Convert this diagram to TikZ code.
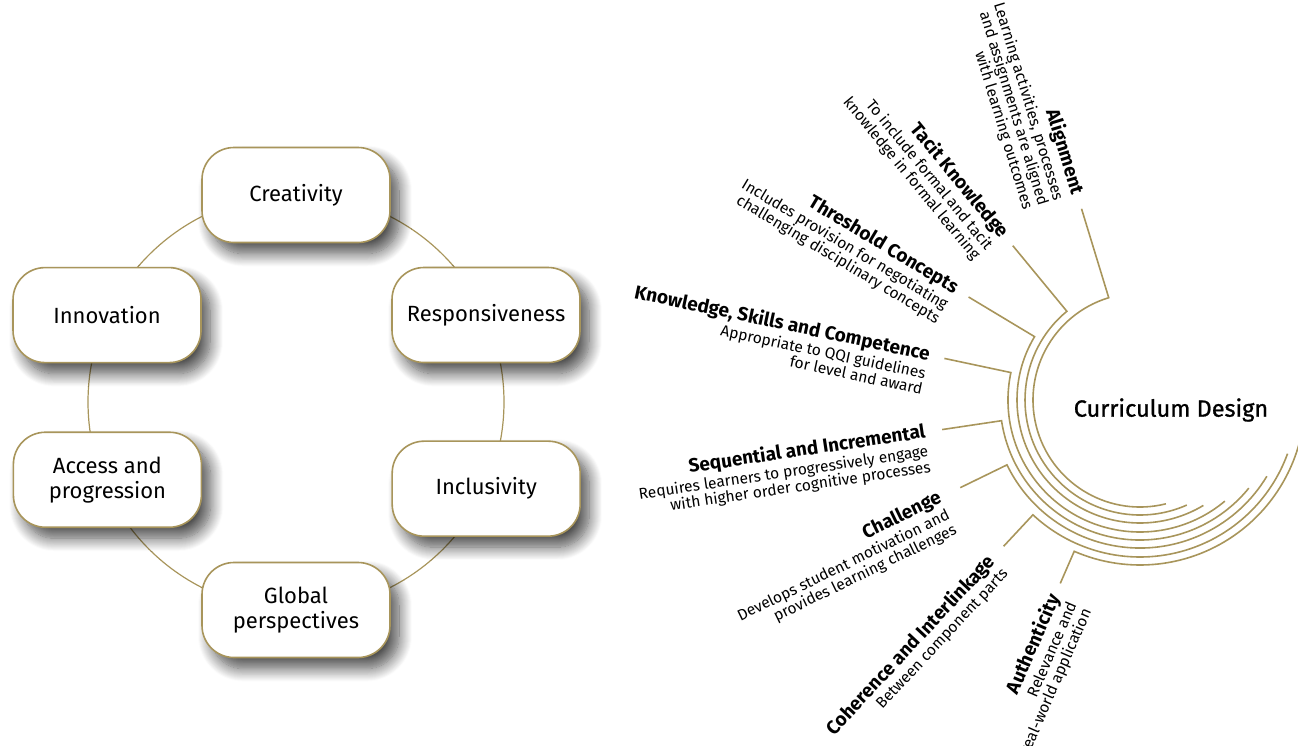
\documentclass[tikz,border=0pt]{standalone}
\usepackage{fontspec}
\setmainfont{Fira Sans}
\newfontfamily\cdfont[FakeBold=1]{Fira Sans}
\usepackage{tikz}
\usetikzlibrary{positioning}
\usetikzlibrary{shadows.blur}
\definecolor{gold}{HTML}{A8955B}
\tikzset{
    ring/.style = {draw=gold, line width=1.2pt},
    pillar/.style = {rectangle, rounded corners=32pt, draw=gold, line width=1.6pt, fill=white, minimum width=188pt, minimum height=95pt, align=center, font=\fontsize{22}{25}\selectfont,
        blur shadow={shadow xshift=9pt, shadow yshift=-11pt, shadow blur radius=13pt, shadow blur steps=14, shadow opacity=70}},
    spoke/.style = {draw=gold, line width=1.6pt},
    centre/.style = {inner sep=0pt, font=\cdfont\fontsize{23.5}{27}\selectfont},
    title/.style = {inner sep=1pt, font=\bfseries\fontsize{19}{21}\selectfont},
    desc/.style = {inner sep=1pt, align=right, font=\fontsize{15.5}{16}\selectfont}
}
\begin{document}
\begin{tikzpicture}[x=1pt,y=1pt]
\useasboundingbox (0,0) rectangle (1298,-745);
\clip (0,0) rectangle (1298,-745);
%
% ring of values
\coordinate (ringc) at (296,-402);
\draw[ring] (ringc) circle (208);
\node[pillar] at ([shift={(90:207)}]ringc) (cre) {Creativity};
\node[pillar] at ([shift={(24.6:209)}]ringc) (res) {Responsiveness};
\node[pillar] at ([shift={(-24.5:209)}]ringc) (inc) {Inclusivity};
\node[pillar] at ([shift={(-90:208)}]ringc) (glo) {Global\\perspectives};
\node[pillar] at ([shift={(202.4:204)}]ringc) (acc) {Access and\\progression};
\node[pillar] at ([shift={(155.3:208)}]ringc) (inn) {Innovation};
%
% curriculum design
\coordinate (cd) at (1140,-400);
\node[centre] at (1171,-410) (cdl) {Curriculum Design};
%
\coordinate (a1) at ([shift={(107:107)}]cd);
\coordinate (e1) at ([shift={(107:200)}]cd);
\draw[spoke] (e1) -- (a1) arc[start angle=107, end angle=284, radius=107];
\node[title, rotate=287, anchor=east] at ([shift={(107:214)}]cd) (t1) {Alignment};
\node[desc, rotate=287, anchor=north east] at (t1.south east) (d1) {Learning activities, processes\\and assignments are aligned\\with learning outcomes};
%
\coordinate (a2) at ([shift={(129.5:115)}]cd);
\coordinate (e2) at ([shift={(129.5:200)}]cd);
\draw[spoke] (e2) -- (a2) arc[start angle=129.5, end angle=294, radius=115];
\node[title, rotate=309.5, anchor=east] at ([shift={(129.5:212)}]cd) (t2) {Tacit Knowledge};
\node[desc, rotate=309.5, anchor=north east] at (t2.south east) (d2) {To include formal and tacit\\knowledge in formal learning};
%
\coordinate (a3) at ([shift={(149:123)}]cd);
\coordinate (e3) at ([shift={(149:200)}]cd);
\draw[spoke] (e3) -- (a3) arc[start angle=149, end angle=301, radius=123];
\node[title, rotate=329, anchor=east] at ([shift={(149:213)}]cd) (t3) {Threshold Concepts};
\node[desc, rotate=329, anchor=north east] at (t3.south east) (d3) {Includes provision for negotiating\\challenging disciplinary concepts};
%
\coordinate (a4) at ([shift={(168:132)}]cd);
\coordinate (e4) at ([shift={(168:200)}]cd);
\draw[spoke] (e4) -- (a4) arc[start angle=168, end angle=310, radius=132];
\node[title, rotate=348, anchor=east] at ([shift={(168:214)}]cd) (t4) {Knowledge, Skills and Competence};
\node[desc, rotate=348, anchor=north east] at (t4.south east) (d4) {Appropriate to QQI guidelines\\for level and award};
%
\coordinate (a5) at ([shift={(188.5:140)}]cd);
\coordinate (e5) at ([shift={(188.5:200)}]cd);
\draw[spoke] (e5) -- (a5) arc[start angle=188.5, end angle=321, radius=140];
\node[title, rotate=8.5, anchor=east] at ([shift={(188.5:216)}]cd) (t5) {Sequential and Incremental};
\node[desc, rotate=8.5, anchor=north east] at (t5.south east) (d5) {Requires learners to progressively engage\\with higher order cognitive processes};
%
\coordinate (a6) at ([shift={(206:148)}]cd);
\coordinate (e6) at ([shift={(206:200)}]cd);
\draw[spoke] (e6) -- (a6) arc[start angle=206, end angle=329, radius=148];
\node[title, rotate=26, anchor=east] at ([shift={(206:221)}]cd) (t6) {Challenge};
\node[desc, rotate=26, anchor=north east] at (t6.south east) (d6) {Develops student motivation and\\provides learning challenges};
%
\coordinate (a7) at ([shift={(227:157)}]cd);
\coordinate (e7) at ([shift={(227:200)}]cd);
\draw[spoke] (e7) -- (a7) arc[start angle=227, end angle=340, radius=157];
\node[title, rotate=47, anchor=east] at ([shift={(227:216)}]cd) (t7) {Coherence and Interlinkage};
\node[desc, rotate=47, anchor=north east] at (t7.south east) (d7) {Between component parts};
%
\coordinate (a8) at ([shift={(246.5:165)}]cd);
\coordinate (e8) at ([shift={(246.5:200)}]cd);
\draw[spoke] (e8) -- (a8) arc[start angle=246.5, end angle=355, radius=165];
\node[title, rotate=66.5, anchor=east] at ([shift={(246.5:212)}]cd) (t8) {Authenticity};
\node[desc, rotate=66.5, anchor=north east] at (t8.south east) (d8) {Relevance and\\real-world application};

\end{tikzpicture}
\end{document}
